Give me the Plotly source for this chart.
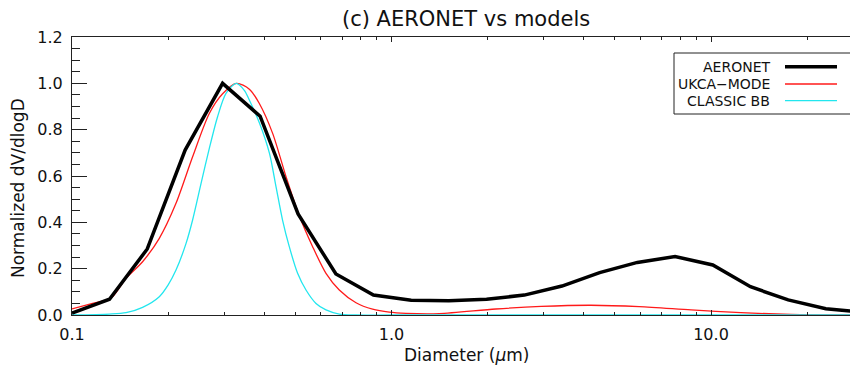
import plotly.graph_objects as go

# ---------------- data ----------------
diam_aeronet = [0.1, 0.131, 0.172, 0.226, 0.296, 0.388, 0.51, 0.67, 0.878, 1.152,
                1.512, 1.984, 2.604, 3.416, 4.482, 5.882, 7.718, 10.13, 13.29,
                17.44, 22.88, 30.0]
dvdlogd_aeronet = [0.008, 0.068, 0.285, 0.712, 1.0, 0.858, 0.436, 0.177, 0.086, 0.064,
                   0.062, 0.068, 0.086, 0.125, 0.183, 0.227, 0.252, 0.216, 0.122,
                   0.065, 0.027, 0.012]

diam_ukca = [0.1, 0.116, 0.1324, 0.1476, 0.1663, 0.1876, 0.2116, 0.2385, 0.269,
             0.2961, 0.327, 0.359, 0.3858, 0.4246, 0.4676, 0.512, 0.5664, 0.6237,
             0.6864, 0.7744, 0.8725, 0.984, 1.11, 1.411, 2.12, 2.94, 4.21, 5.96,
             8.66, 12.4, 17.8, 30.0]
dvdlogd_ukca = [0.026, 0.05, 0.072, 0.158, 0.23, 0.331, 0.482, 0.683, 0.87,
                0.955, 1.0, 0.975, 0.913, 0.784, 0.597, 0.436, 0.295, 0.18,
                0.108, 0.053, 0.025, 0.012, 0.007, 0.006, 0.026, 0.037, 0.042, 0.036,
                0.022, 0.01, 0.003, 0.0]

diam_classic = [0.1, 0.1309, 0.1476, 0.1663, 0.1876, 0.2, 0.2116, 0.2275, 0.2385, 0.2535,
                0.269, 0.2855, 0.3034, 0.3267, 0.3462, 0.3589, 0.3858, 0.415, 0.435,
                0.456, 0.4787, 0.5083, 0.54, 0.5804, 0.6237, 0.6864, 0.7744, 1.0,
                10.0, 30.0]
dvdlogd_classic = [0.0, 0.004, 0.01, 0.033, 0.079, 0.13, 0.194, 0.309, 0.41, 0.568,
                   0.719, 0.856, 0.957, 1.0, 0.97, 0.928, 0.83, 0.698, 0.554,
                   0.41, 0.295, 0.18, 0.108, 0.05, 0.022, 0.004, 0.0, 0.0,
                   0.0, 0.0]

x_tick_vals = [0.1, 1.0, 10.0]
x_tick_text = ["0.1", "1.0", "10.0"]
x_minor_vals = [0.2, 0.3, 0.4, 0.5, 0.6, 0.7, 0.8, 0.9,
                2, 3, 4, 5, 6, 7, 8, 9, 20]
y_tick_vals = [0.0, 0.2, 0.4, 0.6, 0.8, 1.0, 1.2]
y_tick_text = ["0.0", "0.2", "0.4", "0.6", "0.8", "1.0", "1.2"]

series_names = ["AERONET", "UKCA\u2212MODE", "CLASSIC BB"]
series_colors = ["#000000", "#ff1a1a", "#22e6ee"]
series_widths = [3.5, 1.3, 1.3]

title_text = "(c) AERONET vs models"
x_title = "Diameter (<i>\u03bc</i>m)"
y_title = "Normalized dV/dlogD"

# ---------------- figure ----------------
W, H = 850, 367
ML, MR, MT, MB = 72, 0, 37, 52
PW, PH = W - ML - MR, H - MT - MB
FONT = "DejaVu Sans"
TXT = "#111111"


def px_to_paper_x(px):
    return (px - ML) / PW


def px_to_paper_y(py):
    return (H - MB - py) / PH


fig = go.Figure()

data_sets = [
    (diam_aeronet, dvdlogd_aeronet, "linear"),
    (diam_ukca, dvdlogd_ukca, "spline"),
    (diam_classic, dvdlogd_classic, "spline"),
]
# draw model curves first, AERONET on top
for idx in [1, 2, 0]:
    xs, ys, shape = data_sets[idx]
    fig.add_trace(go.Scatter(
        x=xs, y=ys, mode="lines", name=series_names[idx],
        line=dict(color=series_colors[idx], width=series_widths[idx], shape=shape,
                  smoothing=0.8),
        showlegend=False,
    ))

axis_color = "#222222"
fig.update_xaxes(
    type="log",
    range=[-1, -1 + PW / 319.5],
    tickmode="array", tickvals=x_tick_vals, ticktext=x_tick_text,
    ticks="inside", ticklen=5, tickwidth=1, tickcolor=axis_color,
    minor=dict(tickmode="array", tickvals=x_minor_vals, ticks="inside",
               ticklen=3, tickwidth=1, tickcolor=axis_color, showgrid=False),
    showline=True, linecolor=axis_color, linewidth=1, mirror="allticks",
    showgrid=False, zeroline=False,
    tickfont=dict(family=FONT, size=16, color=TXT),
    ticklabelstandoff=5,
)
fig.update_yaxes(
    range=[0, 1.2],
    tickmode="array", tickvals=y_tick_vals, ticktext=y_tick_text,
    ticks="inside", ticklen=15, tickwidth=1, tickcolor=axis_color,
    minor=dict(dtick=0.05, ticks="inside", ticklen=8, tickwidth=1,
               tickcolor=axis_color, showgrid=False),
    showline=True, linecolor=axis_color, linewidth=1, mirror=False,
    showgrid=False, zeroline=False,
    tickfont=dict(family=FONT, size=16, color=TXT),
    ticklabelstandoff=5,
)

annotations = [
    dict(text=title_text, x=px_to_paper_x(466), y=px_to_paper_y(19),
         xref="paper", yref="paper", showarrow=False, xanchor="center",
         yanchor="middle", font=dict(family=FONT, size=21, color=TXT)),
    dict(text=x_title, x=px_to_paper_x(466), y=px_to_paper_y(355),
         xref="paper", yref="paper", showarrow=False, xanchor="center",
         yanchor="middle", font=dict(family=FONT, size=17, color=TXT)),
    dict(text=y_title, x=px_to_paper_x(18), y=px_to_paper_y(188),
         xref="paper", yref="paper", showarrow=False, xanchor="center",
         yanchor="middle", textangle=-90,
         font=dict(family=FONT, size=17, color=TXT)),
]

shapes = [
    # legend box
    dict(type="rect", xref="paper", yref="paper",
         x0=px_to_paper_x(674), x1=px_to_paper_x(880),
         y0=px_to_paper_y(114), y1=px_to_paper_y(53),
         line=dict(color="#222222", width=1), fillcolor="white", layer="above"),
]
row_py = [66.7, 84, 100.7]
for i, name in enumerate(series_names):
    annotations.append(dict(
        text=name, x=px_to_paper_x(772), y=px_to_paper_y(row_py[i]),
        xref="paper", yref="paper", showarrow=False, xanchor="right",
        yanchor="middle", font=dict(family=FONT, size=14, color=TXT)))
    shapes.append(dict(
        type="line", xref="paper", yref="paper",
        x0=px_to_paper_x(785), x1=px_to_paper_x(837),
        y0=px_to_paper_y(row_py[i]), y1=px_to_paper_y(row_py[i]),
        line=dict(color=series_colors[i], width=series_widths[i]), layer="above"))

fig.update_layout(
    width=W, height=H,
    margin=dict(l=ML, r=MR, t=MT, b=MB, pad=0),
    paper_bgcolor="white", plot_bgcolor="white",
    showlegend=False,
    annotations=annotations,
    shapes=shapes,
)

fig.write_html("out.html")
